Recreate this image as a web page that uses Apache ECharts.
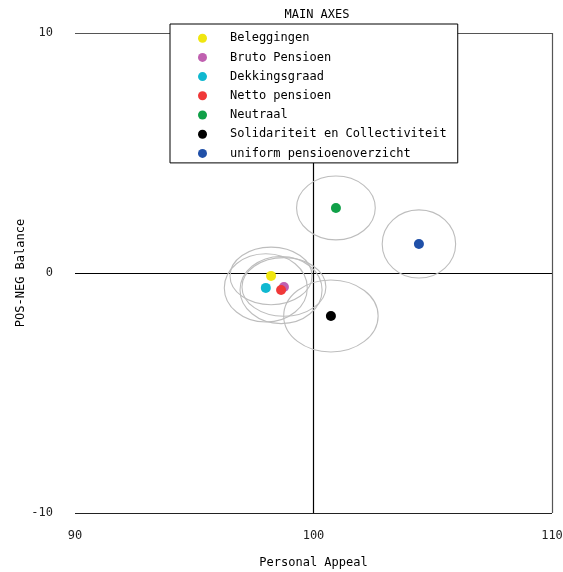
<!DOCTYPE html>
<html>
<head>
<meta charset="utf-8">
<script src="https://cdn.jsdelivr.net/npm/echarts@6/dist/echarts.min.js"></script>
<style>html,body{margin:0;padding:0;background:#fff;}#c{width:563px;height:572px;}</style>
</head>
<body>
<div id="c"></div>
<script>
const names = ['Beleggingen','Bruto Pensioen','Dekkingsgraad','Netto pensioen','Neutraal','Solidariteit en Collectiviteit','uniform pensioenoverzicht'];
const colors = ['#f0e610','#c060b0','#10b8d0','#f03838','#10a048','#000000','#2050a8'];
const appeal = [98.22, 98.76, 98.0, 98.64, 100.94, 100.73, 104.42];
const balance = [-0.12, -0.58, -0.62, -0.71, 2.71, -1.79, 1.21];
const spreadX = [1.72, 1.76, 1.74, 1.72, 1.65, 1.98, 1.54];
const spreadY = [1.2, 1.22, 1.42, 1.4, 1.33, 1.5, 1.42];
const xTicks = [90, 100, 110];
const yTicks = [-10, 0, 10];

const FONT = 'DejaVu Sans Mono';
const chart = echarts.init(document.getElementById('c'));

const series = [{
  type: 'custom',
  silent: true,
  z: 1,
  data: names.map((n, i) => [appeal[i], balance[i], spreadX[i], spreadY[i]]),
  encode: {x: 0, y: 1},
  renderItem: function (params, api) {
    const c = api.coord([api.value(0), api.value(1)]);
    const s = api.size([api.value(2), api.value(3)]);
    return {
      type: 'ellipse',
      shape: {cx: c[0], cy: c[1], rx: s[0], ry: s[1]},
      style: {fill: 'none', stroke: '#bdbdbd', lineWidth: 1.1}
    };
  }
}];
names.forEach((n, i) => {
  series.push({
    type: 'scatter',
    name: n,
    z: 3,
    symbol: 'circle',
    symbolSize: 10,
    itemStyle: {color: colors[i], opacity: 1},
    data: [[appeal[i], balance[i]]]
  });
});

chart.setOption({
  animation: false,
  backgroundColor: '#fff',
  title: {
    text: 'MAIN AXES',
    left: 312, top: 4, textAlign: 'center',
    textStyle: {fontFamily: FONT, fontSize: 12, fontWeight: 'normal', color: '#000'}
  },
  grid: {left: 75, right: 11, top: 33, bottom: 59, containLabel: false, outerBoundsMode: 'none'},
  legend: {
    data: names,
    orient: 'vertical',
    left: 170, top: 24,
    padding: [4.7, 11, 0, 28],
    itemGap: 0.2,
    itemWidth: 9, itemHeight: 9,
    icon: 'circle',
    backgroundColor: '#fff',
    borderColor: '#000',
    borderWidth: 1,
    borderRadius: 0,
    itemStyle: {opacity: 1},
    textStyle: {fontFamily: FONT, fontSize: 12, color: '#000', lineHeight: 19, padding: [0, 0, 0, 18]}
  },
  xAxis: {
    type: 'value', min: xTicks[0], max: xTicks[xTicks.length - 1], interval: 10,
    name: 'Personal Appeal', nameLocation: 'middle', nameGap: 44,
    nameTextStyle: {fontFamily: FONT, fontSize: 12, color: '#000'},
    axisLine: {show: false}, axisTick: {show: false},
    axisLabel: {fontFamily: FONT, fontSize: 12, color: '#222', margin: 17},
    splitLine: {show: true, lineStyle: {color: ['rgba(0,0,0,0)', '#000', '#555'], width: 1.2}}
  },
  yAxis: {
    type: 'value', min: yTicks[0], max: yTicks[yTicks.length - 1], interval: 10,
    name: 'POS-NEG Balance', nameLocation: 'middle', nameGap: 48, nameRotate: 90,
    nameMoveOverlap: false,
    nameTextStyle: {fontFamily: FONT, fontSize: 12, color: '#000'},
    axisLine: {show: false}, axisTick: {show: false},
    axisLabel: {fontFamily: FONT, fontSize: 12, color: '#222', margin: 22},
    splitLine: {show: true, lineStyle: {color: ['#222', '#000', '#555'], width: 1.2}}
  },
  series: series
});
</script>
</body>
</html>
